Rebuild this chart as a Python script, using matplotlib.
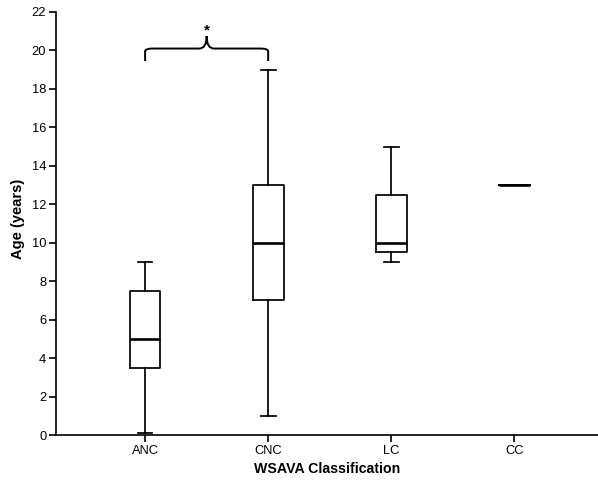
import matplotlib
matplotlib.use("Agg")
import matplotlib.pyplot as plt
from matplotlib.path import Path
from matplotlib.patches import PathPatch

plt.rcParams['font.family'] = ['Liberation Sans', 'DejaVu Sans']

categories = ["ANC", "CNC", "LC", "CC"]
whislo = [0.1, 1, 9, 13]
q1 = [3.5, 7, 9.5, 13]
med = [5, 10, 10, 13]
q3 = [7.5, 13, 12.5, 13]
whishi = [9, 19, 15, 13]
yticks = list(range(0, 23, 2))

fig = plt.figure(figsize=(5.98, 4.83), dpi=100)
ax = fig.add_axes([56/598, 48/483, (598-56)/598, 423/483])

stats = []
for i, c in enumerate(categories):
    stats.append(dict(label=c, whislo=whislo[i], q1=q1[i], med=med[i],
                      q3=q3[i], whishi=whishi[i], fliers=[]))

positions = list(range(len(categories)))
lw = 1.25
ax.bxp(stats, positions=positions, widths=0.25, showfliers=False,
       boxprops=dict(color='black', linewidth=lw),
       whiskerprops=dict(color='black', linewidth=lw),
       capprops=dict(color='black', linewidth=lw),
       medianprops=dict(color='black', linewidth=1.9),
       capwidths=0.12)

ax.set_xlim(-0.724, 3.68)
ax.set_ylim(0, 22)
ax.set_yticks(yticks)
ax.set_xticks(positions)
ax.set_xticklabels(categories)
ax.spines['top'].set_visible(False)
ax.spines['right'].set_visible(False)
for s in ('left', 'bottom'):
    ax.spines[s].set_linewidth(1.2)
ax.tick_params(axis='both', labelsize=9.3, width=1.2, length=5, direction='out', pad=2)
ax.set_ylabel("Age (years)", fontsize=10.5, fontweight='bold')
ax.set_xlabel("WSAVA Classification", fontsize=10.2, fontweight='bold')
ax.yaxis.set_label_coords(-0.057, 0.51)
ax.xaxis.set_label_coords(0.5, -0.064)

# curly bracket between ANC and CNC
x0, x1 = positions[0], positions[1]
xm = (x0 + x1) / 2
yb, yt, ypk = 19.45, 20.1, 20.75
r = 0.06
verts = [(x0, yb), (x0, yt - 0.15), (x0, yt), (x0 + r, yt),
         (xm - r, yt), (xm, yt), (xm, ypk),
         (xm, ypk), (xm, yt), (xm + r, yt),
         (x1 - r, yt), (x1, yt), (x1, yt - 0.15), (x1, yb)]
codes = [Path.MOVETO, Path.LINETO, Path.CURVE3, Path.CURVE3,
         Path.LINETO, Path.CURVE3, Path.CURVE3,
         Path.MOVETO, Path.CURVE3, Path.CURVE3,
         Path.LINETO, Path.CURVE3, Path.CURVE3, Path.LINETO]
ax.add_patch(PathPatch(Path(verts, codes), facecolor='none', edgecolor='black',
                       linewidth=1.4, clip_on=False))
ax.text(xm, 20.7, "*", ha='center', va='bottom', fontsize=11, fontweight='bold')

fig.savefig("out.png", dpi=100)
